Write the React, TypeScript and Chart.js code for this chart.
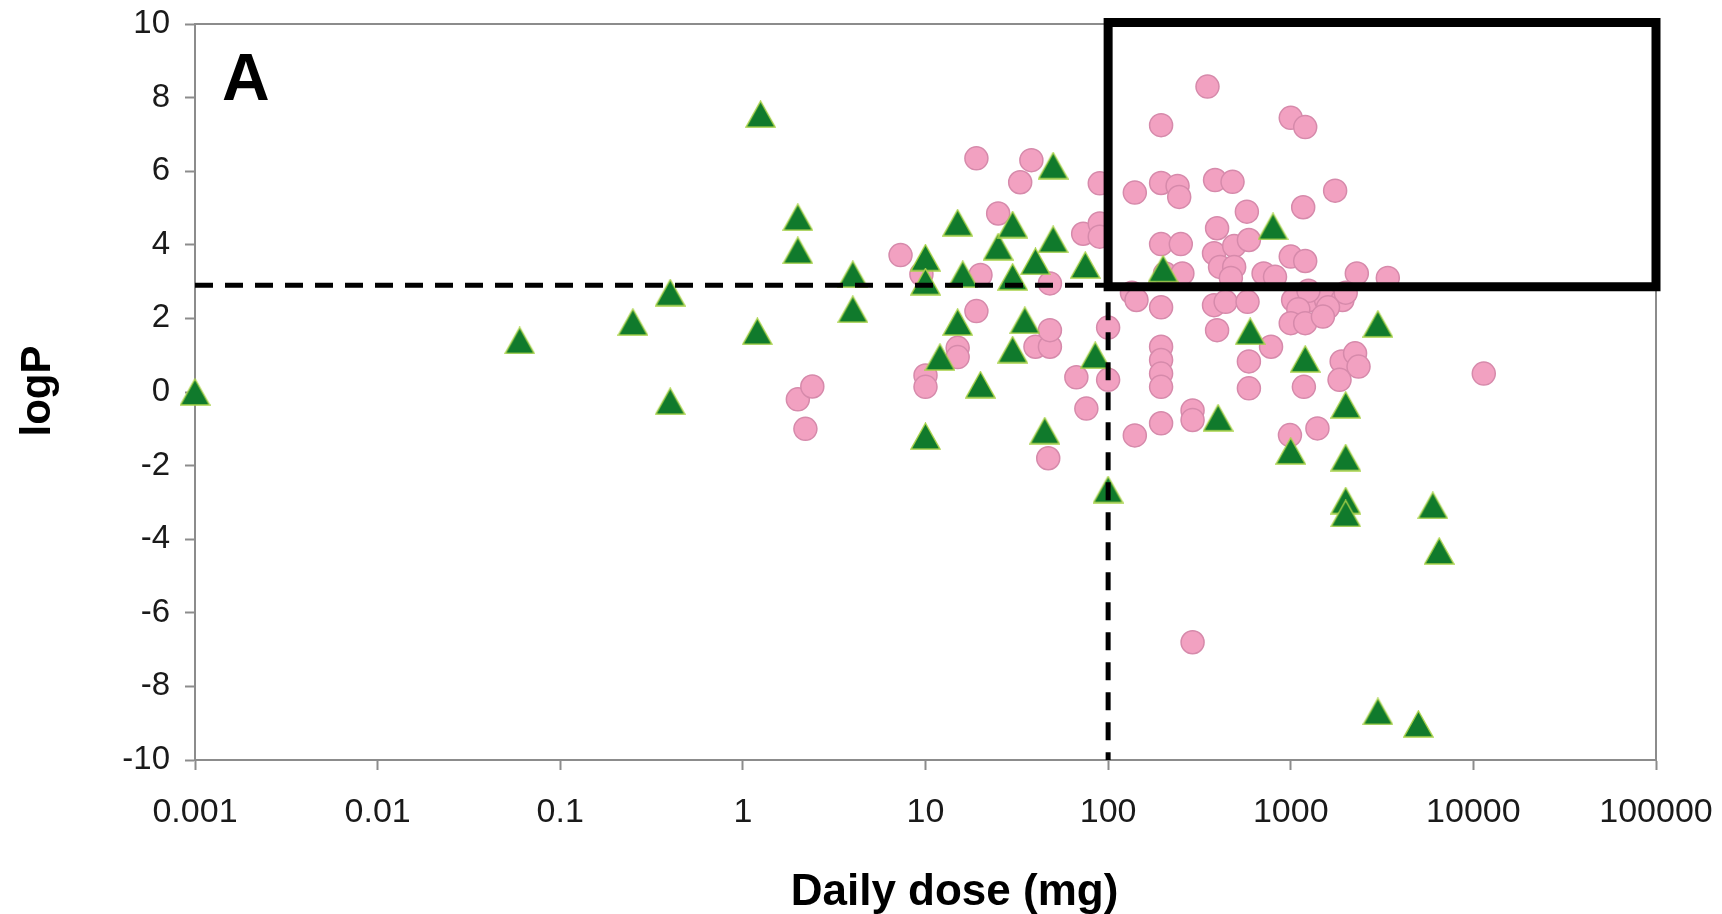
import { useEffect, useRef } from "react";
import { Chart, registerables } from "chart.js";

Chart.register(...registerables);

const WIDTH = 1722;
const HEIGHT = 914;
const FONT = "'Liberation Sans', Arial, Helvetica, sans-serif";

// Axis ticks
const X_TICK_VALUES = [0.001, 0.01, 0.1, 1, 10, 100, 1000, 10000, 100000];
const X_TICK_LABELS = ["0.001", "0.01", "0.1", "1", "10", "100", "1000", "10000", "100000"];
const Y_MIN = -10;
const Y_MAX = 10;
const Y_STEP = 2;

// Pink circles: daily dose (mg) and logP
const circleDose = [
  2, 2.4, 2.2, 7.3, 9.5, 10, 10, 15, 15, 19,
  20, 19, 25, 33, 38, 40, 48, 48, 48, 47,
  67, 76, 73, 90, 90, 90, 100, 100, 135, 143,
  140, 350, 195, 1000, 1200, 140, 195, 240, 245, 385,
  480, 1750, 1170, 575, 395, 195, 250, 380, 490, 590,
  1000, 1200, 205, 255, 410, 490, 470, 710, 820, 2300,
  3400, 195, 380, 440, 580, 1030, 1270, 1560, 1920, 1250,
  2000, 1100, 1600, 1000, 1200, 1500, 395, 780, 590, 590,
  1180, 1900, 2250, 2350, 1850, 11400, 1400, 990, 290, 290,
  195, 195, 195, 195, 195, 290,
];
const circleLogP = [
  -0.2, 0.15, -1.0, 3.72, 3.2, 0.45, 0.14, 1.2, 0.95, 6.35,
  3.18, 2.2, 4.85, 5.7, 6.3, 1.23, 1.23, 1.68, 2.95, -1.8,
  0.4, -0.45, 4.3, 4.58, 4.22, 5.67, 1.75, 0.33, 2.7, 2.5,
  -1.18, 8.3, 7.25, 7.45, 7.2, 5.42, 5.68, 5.6, 5.3, 5.76,
  5.71, 5.47, 5.02, 4.9, 4.45, 4.02, 4.02, 3.77, 3.97, 4.13,
  3.68, 3.56, 3.22, 3.22, 3.4, 3.4, 3.1, 3.22, 3.13, 3.22,
  3.1, 2.3, 2.36, 2.45, 2.45, 2.5, 2.5, 2.5, 2.5, 2.75,
  2.7, 2.25, 2.3, 1.87, 1.87, 2.05, 1.68, 1.23, 0.83, 0.1,
  0.14, 0.83, 1.05, 0.69, 0.33, 0.5, -0.99, -1.17, -0.5, -0.76,
  -0.85, 1.23, 0.87, 0.5, 0.14, -6.8,
];

// Green triangles: daily dose (mg) and logP
const triangleDose = [
  0.001, 0.06, 0.25, 0.4, 0.4, 1.2, 1.25, 2, 2, 4,
  4, 10, 10, 10, 12, 15, 15, 16, 20, 25,
  30, 30, 30, 35, 40, 45, 50, 50, 75, 85,
  100, 200, 400, 600, 800, 1000, 1200, 2000, 2000, 2000,
  2000, 3000, 3000, 5000, 6000, 6500,
];
const triangleLogP = [
  0, 1.4, 1.9, 2.7, -0.25, 1.65, 7.55, 4.75, 3.85, 3.2,
  2.25, 3.65, 3.0, -1.2, 0.95, 4.6, 1.9, 3.2, 0.2, 3.95,
  4.55, 3.13, 1.15, 1.95, 3.55, -1.05, 6.15, 4.15, 3.45, 1.0,
  -2.65, 3.35, -0.7, 1.65, 4.5, -1.6, 0.9, -0.35, -1.78, -2.95,
  -3.3, 1.85, -8.68, -9.02, -3.08, -4.32,
];

// Cut-off guides and the highlighted region
const DOSE_CUTOFF = 100;
const LOGP_CUTOFF = 2.9;
const BOX_DOSE = [100, 100000];
const BOX_LOGP = [2.86, 10.04];

const PANEL_LABEL = "A";
const X_TITLE = "Daily dose (mg)";
const Y_TITLE = "logP";

const AXIS_GREY = "#8c8c8c";

function makeTriangleMarker(): HTMLCanvasElement {
  const c = document.createElement("canvas");
  const w = 31;
  const h = 28;
  c.width = w;
  c.height = h;
  const g = c.getContext("2d")!;
  g.beginPath();
  g.moveTo(w / 2, 1);
  g.lineTo(w - 1, h - 1);
  g.lineTo(1, h - 1);
  g.closePath();
  g.fillStyle = "#107a2c";
  g.fill();
  g.lineWidth = 1.4;
  g.strokeStyle = "#a9d24a";
  g.stroke();
  return c;
}

const framePlugin = {
  id: "plotFrame",
  beforeDatasetsDraw(chart: any) {
    const { ctx, chartArea: a } = chart;
    ctx.save();
    ctx.strokeStyle = AXIS_GREY;
    ctx.lineWidth = 2;
    ctx.beginPath();
    ctx.moveTo(a.left, a.top);
    ctx.lineTo(a.right, a.top);
    ctx.lineTo(a.right, a.bottom);
    ctx.stroke();
    ctx.restore();
  },
};

const textPlugin = {
  id: "panelTexts",
  afterDraw(chart: any) {
    const { ctx, chartArea: a } = chart;
    ctx.save();
    ctx.fillStyle = "#000";
    ctx.font = `bold 66px ${FONT}`;
    ctx.textAlign = "left";
    ctx.textBaseline = "alphabetic";
    ctx.fillText(PANEL_LABEL, a.left + 27, a.top + 76);

    ctx.font = `bold 44px ${FONT}`;
    ctx.textAlign = "center";
    ctx.textBaseline = "middle";
    ctx.fillText(X_TITLE, (a.left + a.right) / 2 + 29, 893);

    ctx.font = `bold 42px ${FONT}`;
    ctx.translate(38, (a.top + a.bottom) / 2 - 1);
    ctx.rotate(-Math.PI / 2);
    ctx.fillText(Y_TITLE, 0, 0);
    ctx.restore();
  },
};

export default function App() {
  const canvasRef = useRef<HTMLCanvasElement | null>(null);

  useEffect(() => {
    const canvas = canvasRef.current;
    if (!canvas) return;

    const circles = circleDose.map((x, i) => ({ x, y: circleLogP[i] }));
    const triangles = triangleDose.map((x, i) => ({ x, y: triangleLogP[i] }));
    const box = [
      { x: BOX_DOSE[0], y: BOX_LOGP[0] },
      { x: BOX_DOSE[1], y: BOX_LOGP[0] },
      { x: BOX_DOSE[1], y: BOX_LOGP[1] },
      { x: BOX_DOSE[0], y: BOX_LOGP[1] },
      { x: BOX_DOSE[0], y: BOX_LOGP[0] },
    ];
    const cutoff = [
      { x: X_TICK_VALUES[0], y: LOGP_CUTOFF },
      { x: DOSE_CUTOFF, y: LOGP_CUTOFF },
      { x: DOSE_CUTOFF, y: Y_MIN },
    ];

    const gridOpts = {
      display: true,
      drawOnChartArea: false,
      drawTicks: true,
      tickLength: 10,
      tickColor: AXIS_GREY,
      tickWidth: 2,
    };
    const borderOpts = { display: true, color: AXIS_GREY, width: 2 };

    const chart = new Chart(canvas, {
      type: "scatter",
      data: {
        datasets: [
          {
            label: "region",
            data: box,
            showLine: true,
            borderColor: "#000",
            borderWidth: 9,
            borderJoinStyle: "miter",
            borderCapStyle: "square",
            pointRadius: 0,
            fill: false,
            clip: false,
            order: 0,
          } as any,
          {
            label: "cutoff",
            data: cutoff,
            showLine: true,
            borderColor: "#000",
            borderWidth: 5,
            borderDash: [18, 12],
            pointRadius: 0,
            fill: false,
            clip: false,
            order: 0,
          } as any,
          {
            label: "triangles",
            data: triangles,
            pointStyle: makeTriangleMarker(),
            pointRadius: 15,
            clip: false,
            order: 1,
          } as any,
          {
            label: "circles",
            data: circles,
            pointStyle: "circle",
            pointRadius: 11.5,
            backgroundColor: "#f2a1c1",
            borderColor: "#d68aab",
            borderWidth: 1.5,
            clip: false,
            order: 2,
          } as any,
        ],
      },
      options: {
        responsive: false,
        animation: false,
        devicePixelRatio: 1,
        events: [],
        layout: { padding: { left: 0, top: 24, right: WIDTH - 1656, bottom: 0 } },
        plugins: {
          legend: { display: false },
          tooltip: { enabled: false },
        },
        scales: {
          x: {
            type: "logarithmic",
            min: X_TICK_VALUES[0],
            max: X_TICK_VALUES[X_TICK_VALUES.length - 1],
            afterBuildTicks: (s: any) => {
              s.ticks = X_TICK_VALUES.map((value) => ({ value }));
            },
            afterFit: (s: any) => {
              s.height = HEIGHT - 760;
              s.paddingLeft = 0;
              s.paddingRight = 0;
            },
            ticks: {
              autoSkip: false,
              maxRotation: 0,
              minRotation: 0,
              padding: 22,
              color: "#1a1a1a",
              font: { family: FONT, size: 34 },
              callback: (_v: any, i: number) => X_TICK_LABELS[i],
            },
            grid: gridOpts,
            border: borderOpts,
          } as any,
          y: {
            type: "linear",
            min: Y_MIN,
            max: Y_MAX,
            afterFit: (s: any) => {
              s.width = 195;
              s.paddingTop = 0;
              s.paddingBottom = 0;
            },
            ticks: {
              stepSize: Y_STEP,
              padding: 15,
              color: "#1a1a1a",
              font: { family: FONT, size: 33 },
            },
            grid: gridOpts,
            border: borderOpts,
          } as any,
        },
      },
      plugins: [framePlugin, textPlugin],
    });

    return () => chart.destroy();
  }, []);

  return (
    <div
      style={{
        position: "fixed",
        left: 0,
        top: 0,
        width: WIDTH,
        height: HEIGHT,
        background: "#fff",
      }}
    >
      <canvas ref={canvasRef} width={WIDTH} height={HEIGHT} style={{ display: "block" }} />
    </div>
  );
}
